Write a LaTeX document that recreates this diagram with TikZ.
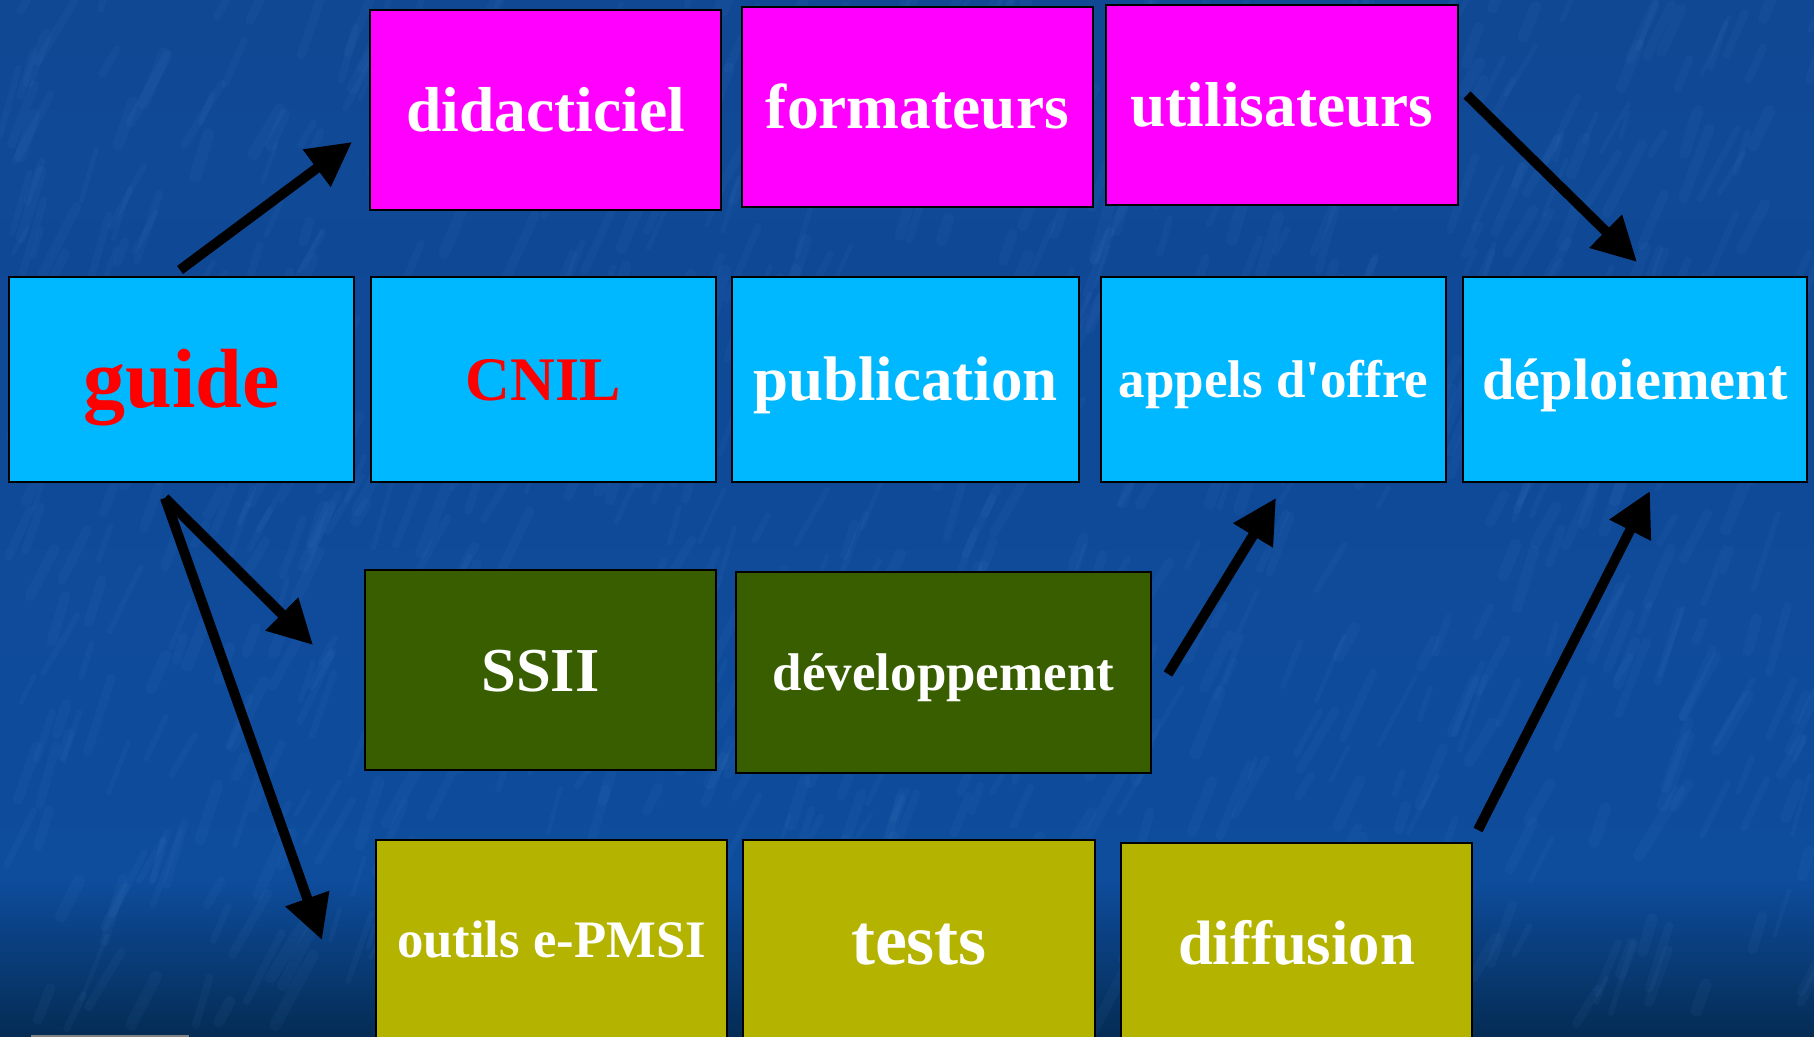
\documentclass[tikz,border=0pt]{standalone}
\usepackage{fontspec}
\setmainfont{Liberation Serif}
\newfontfamily\plainrm{Liberation Serif}
\usetikzlibrary{arrows.meta}
\definecolor{bgtop}{RGB}{16,72,148}
\definecolor{bgmid}{RGB}{14,76,156}
\definecolor{bgbot}{RGB}{4,44,84}
\definecolor{streakc}{RGB}{110,170,235}
\definecolor{magbox}{RGB}{255,0,255}
\definecolor{cyanbox}{RGB}{0,184,255}
\definecolor{greenbox}{RGB}{56,94,0}
\definecolor{olivebox}{RGB}{180,180,0}
\definecolor{redtext}{RGB}{255,0,0}
\begin{document}
\begin{tikzpicture}[x=0.5pt,y=-0.5pt,
  box/.style={draw=black, line width=1pt, inner sep=0pt, text=white},
  lbl/.code={\pgfmathsetmacro\mytH{0.891*#1}\pgfmathsetmacro\mytD{0.216*#1}%
    \tikzset{font=\plainrm\fontsize{#1pt}{#1pt}\selectfont\bfseries, text height=\mytH pt, text depth=\mytD pt}},
  mag/.style={box, fill=magbox},
  cya/.style={box, fill=cyanbox},
  grn/.style={box, fill=greenbox},
  oli/.style={box, fill=olivebox},
  arr/.style={line width=5pt, -{Triangle[length=22pt,width=22pt]}},
]
\clip (0,0) rectangle (1814,1037);
% background
\shade[top color=bgtop, bottom color=bgmid] (0,0) rectangle (1814,880);
\shade[top color=bgmid, bottom color=bgbot] (0,879) rectangle (1814,1037);
\pgfmathsetseed{7}
\foreach \i in {1,...,900}{
  \pgfmathsetmacro\sx{1814*rnd}
  \pgfmathsetmacro\sy{1037*rnd}
  \pgfmathsetmacro\sl{20+60*rnd}
  \pgfmathsetmacro\sa{-58-17*rnd}
  \pgfmathsetmacro\sw{2+4*rnd}
  \draw[streakc, line width=\sw pt, opacity=0.05, line cap=round] (\sx,\sy) -- ++(\sa:\sl);
}
\draw[gray, line width=1.5pt] (31,1036) -- (189,1036);

% top row
\node[mag, lbl=31.75, minimum width=175.5pt, minimum height=100pt] (did) at (545.5,110) {didacticiel};
\node[mag, lbl=31.75, minimum width=175.5pt, minimum height=100pt] (form) at (917.5,107) {formateurs};
\node[mag, lbl=31.7, minimum width=176pt, minimum height=100pt] (util) at (1282,105) {utilisateurs};
% middle row
\node[cya, lbl=42, text=redtext, minimum width=172.5pt, minimum height=102.5pt] (guide) at (181.5,379.5) {guide};
\node[cya, lbl=31, text=redtext, minimum width=172.5pt, minimum height=102.5pt] (cnil) at (543.5,379.5) {CNIL};
\node[cya, lbl=31.5, minimum width=173.5pt, minimum height=102.5pt] (pub) at (905.5,379.5) {publication};
\node[cya, lbl=26.5, minimum width=172.5pt, minimum height=102.5pt] (appels) at (1273.5,379.5) {appels d'offre};
\node[cya, lbl=29.25, minimum width=172pt, minimum height=102.5pt] (deploy) at (1635,379.5) {déploiement};
% green row
\node[grn, lbl=31.25, minimum width=175.5pt, minimum height=100pt] (ssii) at (540.5,670) {SSII};
\node[grn, lbl=26.5, minimum width=207.5pt, minimum height=100.5pt] (dev) at (943.5,672.5) {développement};
% bottom row
\node[oli, lbl=26.35, minimum width=175.5pt, minimum height=100pt] (outils) at (551.5,940) {outils e-PMSI};
\node[oli, lbl=36, minimum width=176pt, minimum height=100pt] (tests) at (919,940) {tests};
\node[oli, lbl=31.35, minimum width=175.5pt, minimum height=100pt] (diff) at (1296.5,943) {diffusion};

% arrow ends
\coordinate (a1s) at (180,270);  \coordinate (a1e) at (352,142);
\coordinate (a2s) at (1467,95);  \coordinate (a2e) at (1637,262);
\coordinate (a3s) at (165,498);  \coordinate (a3e) at (313,645);
\coordinate (a4e) at (322,940);
\coordinate (a5s) at (1168,674); \coordinate (a5e) at (1276,498);
\coordinate (a6s) at (1478,830); \coordinate (a6e) at (1650,491);

\draw[arr] (a1s) -- (a1e);
\draw[arr] (a2s) -- (a2e);
\draw[arr] (a3s) -- (a3e);
\draw[arr] (a3s) -- (a4e);
\draw[arr] (a5s) -- (a5e);
\draw[arr] (a6s) -- (a6e);
\end{tikzpicture}
\end{document}
